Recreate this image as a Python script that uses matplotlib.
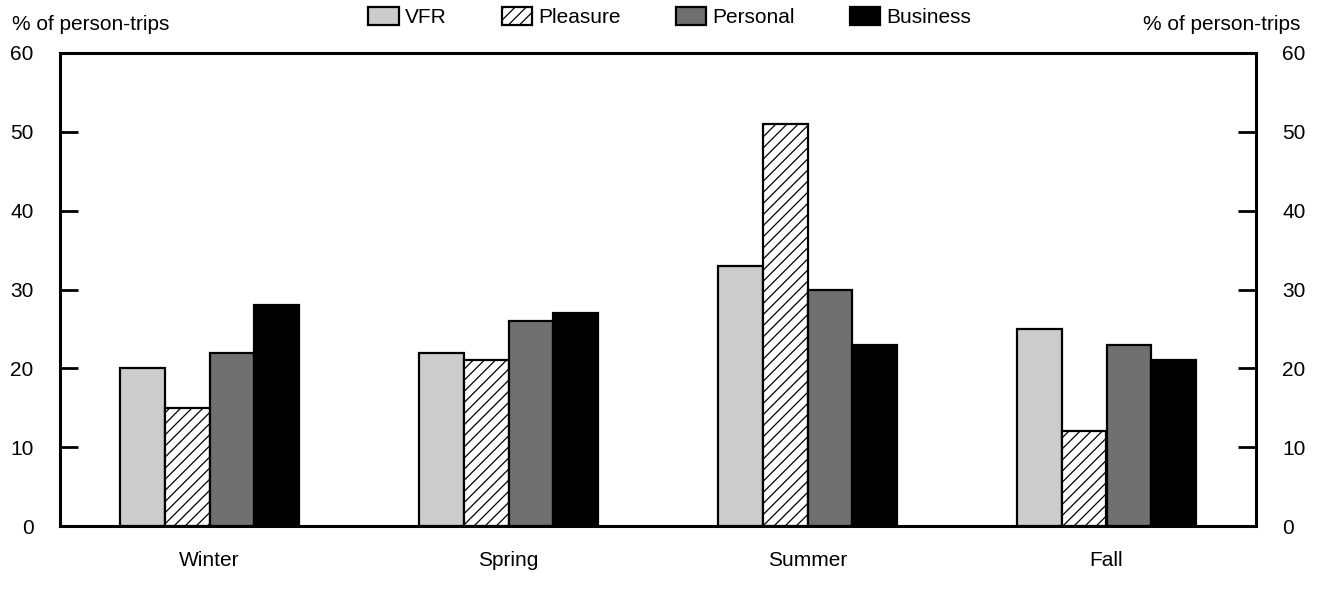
import matplotlib
matplotlib.use("Agg")
import matplotlib.pyplot as plt
import numpy as np

plt.rcParams["font.family"] = ["Liberation Sans", "DejaVu Sans"]
plt.rcParams["hatch.linewidth"] = 0.9

seasons = ["Winter", "Spring", "Summer", "Fall"]
series_names = ["VFR", "Pleasure", "Personal", "Business"]
vfr = [20, 22, 33, 25]
pleasure = [15, 21, 51, 12]
personal = [22, 26, 30, 23]
business = [28, 27, 23, 21]
y_ticks = [0, 10, 20, 30, 40, 50, 60]


def main():
    fig = plt.figure(figsize=(13.19, 5.92), dpi=100)
    ax = fig.add_axes([60 / 1319, 1 - 526 / 592, 1196 / 1319, 473 / 592])

    x = np.arange(len(seasons))
    width = 0.15
    styles = [
        dict(facecolor="#cccccc", hatch=None),
        dict(facecolor="white", hatch="///"),
        dict(facecolor="#707070", hatch=None),
        dict(facecolor="black", hatch=None),
    ]
    data = [vfr, pleasure, personal, business]
    handles = []
    for i, (vals, st) in enumerate(zip(data, styles)):
        offs = (i - 1.5) * width
        b = ax.bar(x + offs, vals, width, facecolor=st["facecolor"],
                   hatch=st["hatch"], edgecolor="black", linewidth=1.6,
                   label=series_names[i])
        handles.append(b)

    ax.set_xlim(-0.5, 3.5)
    ax.set_ylim(0, 60)
    ax.set_xticks(x)
    ax.set_xticklabels(seasons)
    ax.set_yticks(y_ticks)
    ax.tick_params(axis="x", length=0, pad=18, labelsize=15)
    ax.tick_params(axis="y", direction="in", length=13, width=2,
                   pad=19, labelsize=15, right=True, labelright=True)
    for s in ax.spines.values():
        s.set_linewidth(2.2)

    # axis titles sit above the plot on both sides
    fig.text(12 / 1319, 1 - 24 / 592, "% of person-trips", fontsize=15,
             ha="left", va="center")
    fig.text(1300 / 1319, 1 - 24 / 592, "% of person-trips", fontsize=15,
             ha="right", va="center")

    fig.legend(handles=handles, loc="center", ncol=4,
               bbox_to_anchor=(670 / 1319, 1 - 17 / 592), frameon=False,
               fontsize=15, handlelength=1.45, handleheight=0.95,
               handletextpad=0.3, columnspacing=2.65, borderpad=0.2)

    fig.savefig("out.png", dpi=100)


if __name__ == "__main__":
    main()
